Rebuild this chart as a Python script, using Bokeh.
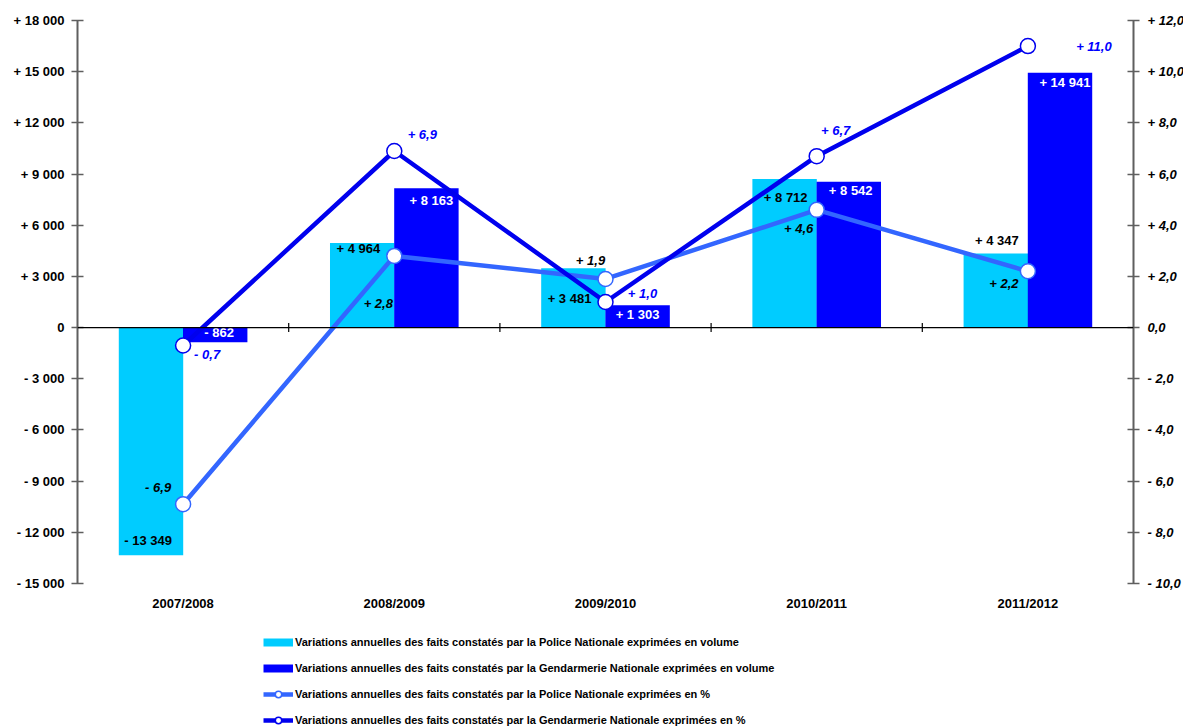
from bokeh.plotting import figure
from bokeh.models import (Range1d, LinearAxis, FixedTicker, Span, Legend, LegendItem,
                          ColumnDataSource)
from bokeh.core.properties import value
from bokeh.embed import file_html
from bokeh.resources import INLINE
import math

# ---------------- data ----------------
categories = ["2007/2008", "2008/2009", "2009/2010", "2010/2011", "2011/2012"]
police_volume = [-13349, 4964, 3481, 8712, 4347]
gendarmerie_volume = [-862, 8163, 1303, 8542, 14941]
police_pct = [-6.9, 2.8, 1.9, 4.6, 2.2]
gendarmerie_pct = [-0.7, 6.9, 1.0, 6.7, 11.0]
left_ticks = list(range(-15000, 18001, 3000))
right_ticks = list(range(-10, 13, 2))

series_names = [
    "Variations annuelles des faits constatés par la Police Nationale exprimées en volume",
    "Variations annuelles des faits constatés par la Gendarmerie Nationale exprimées en volume",
    "Variations annuelles des faits constatés par la Police Nationale exprimées en %",
    "Variations annuelles des faits constatés par la Gendarmerie Nationale exprimées en %",
]

# ---------------- label placement (screen px offsets) ----------------
pv_dx = [-35, -36, -36, -31, -31]; pv_dy = [-15, 6, 30, 19, -13]
gv_dx = [36, 37, 32, 34, 37];      gv_dy = [-10, 12, 9, 9, 10]
pp_dx = [-25, -16, -15, -18, -24]; pp_dy = [-17, 48, -18, 19, 12]
gp_dx = [24, 28, 37, 19, 66];      gp_dy = [9, -17, -9, -26, 0]

# ---------------- styles / layout ----------------
C_POL_BAR = "#00CCFF"
C_GEN_BAR = "#0000FF"
C_POL_LINE = "#3366FF"
C_GEN_LINE = "#0000EE"
FONT = "Liberation Sans"
AX_COL = "#5F5F5F"
AXIS_PX = 563      # pixel height of the value axes
FRAME_PX = 708     # frame extends below the axes to hold category labels + legend


def fmt_int(v):
    if v == 0:
        return "0"
    s = f"{abs(int(v)):,}".replace(",", " ")
    return ("+ " if v > 0 else "- ") + s


def fmt_dec(v):
    if v == 0:
        return "0,0"
    s = f"{abs(v):.1f}".replace(".", ",")
    return ("+ " if v > 0 else "- ") + s


def ext_range(lo, hi):
    return Range1d(hi - (hi - lo) * FRAME_PX / AXIS_PX, hi)


n = len(categories)
xc = [i + 0.5 for i in range(n)]
bar_w = 0.305
off = 0.152

p = figure(frame_width=1056, frame_height=FRAME_PX,
           x_range=Range1d(0, n), y_range=ext_range(left_ticks[0], left_ticks[-1]),
           x_axis_type=None, y_axis_type=None,
           output_backend="svg", toolbar_location=None,
           min_border_left=77, min_border_top=20, min_border_right=0, min_border_bottom=0)
p.extra_y_ranges = {"pct": ext_range(right_ticks[0], right_ticks[-1])}
p.outline_line_color = None
p.background_fill_color = "white"

# axes
yl = LinearAxis(ticker=FixedTicker(ticks=left_ticks), bounds=(left_ticks[0], left_ticks[-1]),
                major_label_overrides={t: fmt_int(t) for t in left_ticks})
yr = LinearAxis(y_range_name="pct", ticker=FixedTicker(ticks=right_ticks),
                bounds=(right_ticks[0], right_ticks[-1]),
                major_label_overrides={t: fmt_dec(t) for t in right_ticks})
for ax, style, so in ((yl, "bold", 7), (yr, "bold italic", 8)):
    ax.axis_line_color = AX_COL
    ax.axis_line_width = 2
    ax.major_tick_line_color = AX_COL
    ax.major_tick_line_width = 1.5
    ax.major_tick_in = 6
    ax.major_tick_out = 6
    ax.minor_tick_line_color = None
    ax.major_label_text_font = FONT
    ax.major_label_text_font_style = style
    ax.major_label_text_font_size = "13px"
    ax.major_label_text_color = "black"
    ax.major_label_standoff = so
p.add_layout(yl, "left")
p.add_layout(yr, "right")

# bars
p.vbar(x=[x - off for x in xc], top=police_volume, bottom=0, width=bar_w,
       fill_color=C_POL_BAR, line_color=None)
p.vbar(x=[x + off for x in xc], top=gendarmerie_volume, bottom=0, width=bar_w,
       fill_color=C_GEN_BAR, line_color=None)

# zero line and category separators
p.add_layout(Span(location=0, dimension="width", line_color="black", line_width=1.2))
p.scatter(x=list(range(1, n)), y=[0] * (n - 1), marker="dash", angle=math.pi / 2,
          size=9, line_color="black", line_width=1.2)

# category labels under the value axes
p.text(x=xc, y=[left_ticks[0]] * n, text=categories, y_offset=20,
       text_font=value(FONT), text_font_style="bold", text_font_size="13px",
       text_color="black", text_align="center", text_baseline="middle")

# lines
pl = p.line(x=xc, y=police_pct, y_range_name="pct", line_color=C_POL_LINE, line_width=4.5)
gl = p.line(x=xc, y=gendarmerie_pct, y_range_name="pct", line_color=C_GEN_LINE, line_width=4.5)
ps = p.scatter(x=xc, y=police_pct, y_range_name="pct", size=15, fill_color="white",
               line_color=C_POL_LINE, line_width=1.5)
gs = p.scatter(x=xc, y=gendarmerie_pct, y_range_name="pct", size=15, fill_color="white",
               line_color=C_GEN_LINE, line_width=1.5)


def labels(vals, fmt, dx, dy, color, style, y_range_name="default"):
    src = ColumnDataSource(dict(x=xc, y=vals, t=[fmt(v) for v in vals], dx=dx, dy=dy))
    p.text(x="x", y="y", text="t", x_offset="dx", y_offset="dy", source=src,
           y_range_name=y_range_name,
           text_font=value(FONT), text_font_style=style, text_font_size="13px",
           text_color=color, text_align="center", text_baseline="middle")


labels(police_volume, fmt_int, pv_dx, pv_dy, "black", "bold")
labels(gendarmerie_volume, fmt_int, gv_dx, gv_dy, "white", "bold")
labels(police_pct, fmt_dec, pp_dx, pp_dy, "black", "bold italic", "pct")
labels(gendarmerie_pct, fmt_dec, gp_dx, gp_dy, "#0000FF", "bold italic", "pct")

# legend (swatch renderers for the bar series: thick line keys, no visible data)
nan = float("nan")
lp = p.line(x=[nan, nan], y=[nan, nan], line_color=C_POL_BAR, line_width=8, line_cap="butt")
lg = p.line(x=[nan, nan], y=[nan, nan], line_color=C_GEN_BAR, line_width=8, line_cap="butt")
legend = Legend(items=[
    LegendItem(label=series_names[0], renderers=[lp]),
    LegendItem(label=series_names[1], renderers=[lg]),
    LegendItem(label=series_names[2], renderers=[pl, ps]),
    LegendItem(label=series_names[3], renderers=[gl, gs]),
], location=(186, 0))
legend.label_text_font = FONT
legend.label_text_font_style = "bold"
legend.label_text_font_size = "11px"
legend.label_text_color = "black"
legend.glyph_width = 30
legend.glyph_height = 16
legend.label_height = 16
legend.spacing = 10
legend.padding = 0
legend.margin = 0
legend.label_standoff = 2
legend.border_line_color = None
legend.background_fill_alpha = 0
p.add_layout(legend)

open("out.html", "w").write(file_html(p, INLINE))
